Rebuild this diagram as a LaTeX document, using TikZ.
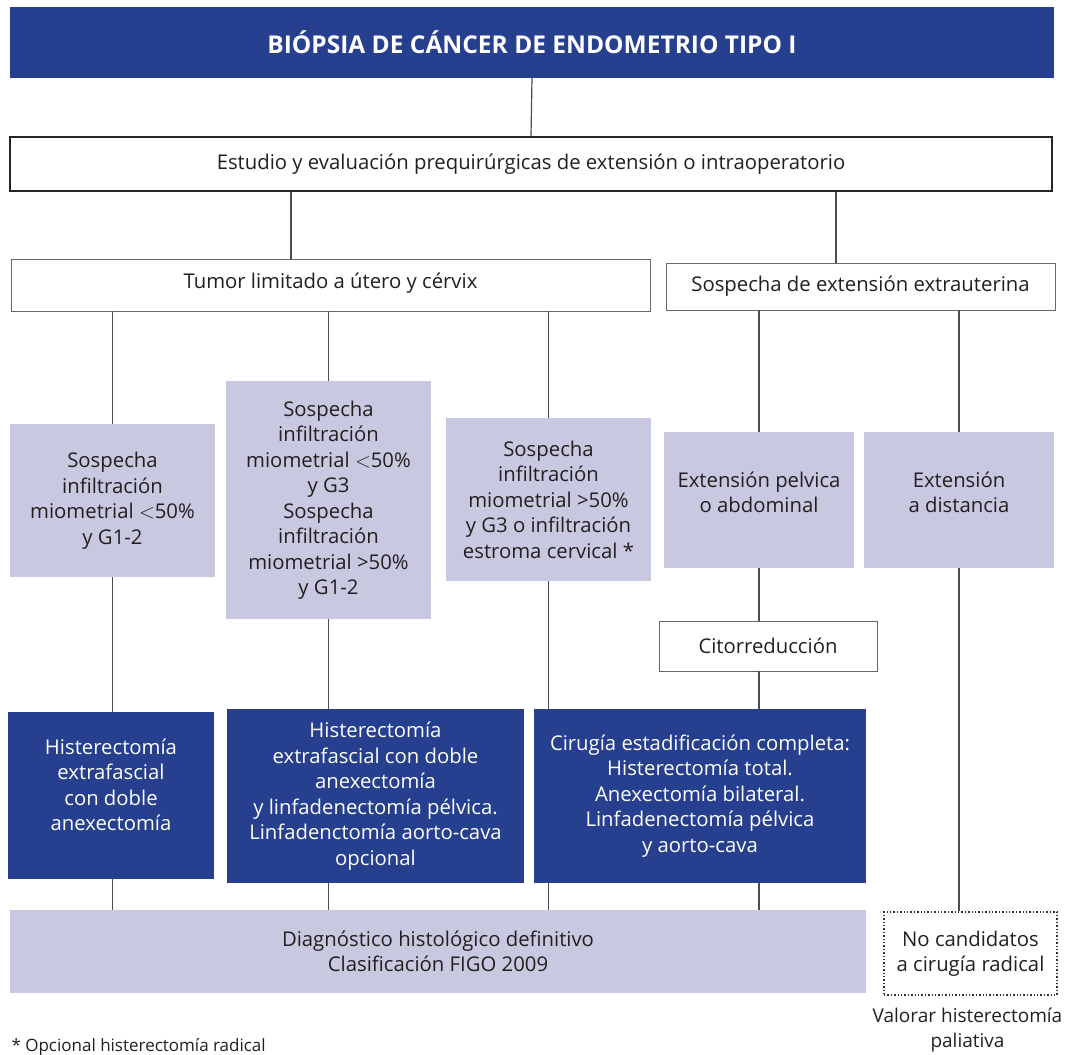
\documentclass[tikz,border=0pt]{standalone}
\usepackage{fontspec}
\setmainfont{Open Sans}
\definecolor{azul}{HTML}{263F8E}
\definecolor{lila}{HTML}{C8C8E0}
\definecolor{texto}{HTML}{231F20}
\definecolor{linea}{HTML}{4D4D4D}
\newcommand{\subir}[2]{\raisebox{#1}[\height][\depth]{\begin{tabular}{@{}c@{}}#2\end{tabular}}}

\begin{document}
\begin{tikzpicture}[
    x=1pt, y=-1pt,
    font=\fontsize{20.3}{25.5}\selectfont, text=texto,
    % --- Node styles ---
    cabecera/.style = {rectangle, fill=azul, text=white, align=center,
        font=\fontsize{24.5}{28}\selectfont\bfseries},
    marco/.style = {rectangle, draw=black!85, line width=2.2pt, fill=white, align=center},
    caja/.style = {rectangle, draw=black!60, line width=0.9pt, fill=white, align=center},
    sospecha/.style = {rectangle, fill=lila, align=center, inner sep=1pt},
    cirugia/.style = {rectangle, fill=azul, text=white, align=center, inner sep=1pt},
    puntos/.style = {rectangle, draw=black!80, line width=1.4pt, dotted, fill=white, align=center},
    % --- Line style ---
    enlace/.style = {draw=linea, line width=1.2pt}
]
\useasboundingbox (0,0) rectangle (1070,1054);

% ==================== CABECERA ====================
\node[cabecera, minimum width=1044pt, minimum height=71pt] (biopsia) at (532,42.5)
    {BIÓPSIA DE CÁNCER DE ENDOMETRIO TIPO I};

\node[marco, minimum width=1042pt, minimum height=54pt] (estudio) at (531,164)
    {Estudio y evaluación prequirúrgicas de extensión o intraoperatorio};

% ==================== RAMAS ====================
\node[caja, minimum width=639pt, minimum height=52pt] (tumor) at (330.5,285)
    {\raisebox{2pt}[\height][\depth]{Tumor limitado a útero y cérvix}};

\node[caja, minimum width=389pt, minimum height=47pt] (extra) at (860.5,286.5)
    {Sospecha de extensión extrauterina};

% ==================== SOSPECHAS ====================
\node[sospecha, minimum width=205pt, minimum height=153pt] (sosA) at (112.5,500.5)
    {Sospecha\\infiltración\\miometrial $<$50\%\\y G1-2};

\node[sospecha, minimum width=205pt, minimum height=238pt] (sosB) at (328.5,500)
    {Sospecha\\infiltración\\miometrial $<$50\%\\y G3\\Sospecha\\infiltración\\miometrial >50\%\\y G1-2};

\node[sospecha, minimum width=205pt, minimum height=163pt] (sosC) at (548.5,499.5)
    {Sospecha\\infiltración\\miometrial >50\%\\y G3 o infiltración\\estroma cervical *};

\node[sospecha, minimum width=190pt, minimum height=136pt] (pelvica) at (759,500)
    {\subir{5pt}{Extensión pelvica\\o abdominal}};

\node[sospecha, minimum width=190pt, minimum height=136pt] (distancia) at (959,500)
    {\subir{5pt}{Extensión\\a distancia}};

\node[caja, minimum width=218pt, minimum height=50pt] (cito) at (768,646)
    {Citorreducción};

% ==================== CIRUGIAS ====================
\node[cirugia, minimum width=206pt, minimum height=167pt] (histA) at (111,795.5)
    {\subir{8pt}{Histerectomía\\extrafascial\\con doble\\anexectomía}};

\node[cirugia, minimum width=297pt, minimum height=174pt] (histB) at (375.5,796)
    {Histerectomía\\extrafascial con doble\\anexectomía\\y linfadenectomía pélvica.\\Linfadenctomía aorto-cava\\opcional};

\node[cirugia, minimum width=332pt, minimum height=174pt] (estadif) at (700,796)
    {Cirugía estadificación completa:\\Histerectomía total.\\Anexectomía bilateral.\\Linfadenectomía pélvica\\y aorto-cava};

% ==================== FINAL ====================
\node[sospecha, minimum width=856pt, minimum height=83pt] (diagnostico) at (438,951.5)
    {Diagnóstico histológico definitivo\\Clasificación FIGO 2009};

\node[puntos, minimum width=173pt, minimum height=83pt] (nocand) at (970.5,953.5)
    {No candidatos\\a cirugía radical};

\node[align=center, anchor=north, yshift=-9pt, xshift=-3pt,
      font=\fontsize{19}{25}\selectfont] (paliativa) at (nocand.south)
    {Valorar histerectomía\\paliativa};

\node[anchor=base west, font=\fontsize{17}{20}\selectfont] (nota) at (8,1051)
    {* Opcional histerectomía radical};

% ==================== LINEAS ====================
\draw[enlace] (biopsia.south) -- (estudio.north);
\draw[enlace] ([xshift=-39.5pt]tumor.north) -- ([xshift=-39.5pt]tumor.north |- estudio.south);
\draw[enlace] ([xshift=-24.5pt]extra.north) -- ([xshift=-24.5pt]extra.north |- estudio.south);

\draw[enlace] (tumor.south -| sosA.north) -- (sosA.north);
\draw[enlace] (tumor.south -| sosB.north) -- (sosB.north);
\draw[enlace] (tumor.south -| sosC.north) -- (sosC.north);
\draw[enlace] (extra.south -| pelvica.north) -- (pelvica.north);
\draw[enlace] (extra.south -| distancia.north) -- (distancia.north);

\draw[enlace] (sosA.south) -- (sosA.south |- histA.north);
\draw[enlace] (sosB.south) -- (sosB.south |- histB.north);
\draw[enlace] (sosC.south) -- (sosC.south |- estadif.north);
\draw[enlace] (pelvica.south) -- (pelvica.south |- cito.north);
\draw[enlace] (pelvica.south |- cito.south) -- (pelvica.south |- estadif.north);
\draw[enlace] (distancia.south) -- (distancia.south |- nocand.north);

\draw[enlace] (sosA.south |- histA.south) -- (sosA.south |- diagnostico.north);
\draw[enlace] (sosB.south |- histB.south) -- (sosB.south |- diagnostico.north);
\draw[enlace] (sosC.south |- estadif.south) -- (sosC.south |- diagnostico.north);
\draw[enlace] (pelvica.south |- estadif.south) -- (pelvica.south |- diagnostico.north);

\end{tikzpicture}
\end{document}
